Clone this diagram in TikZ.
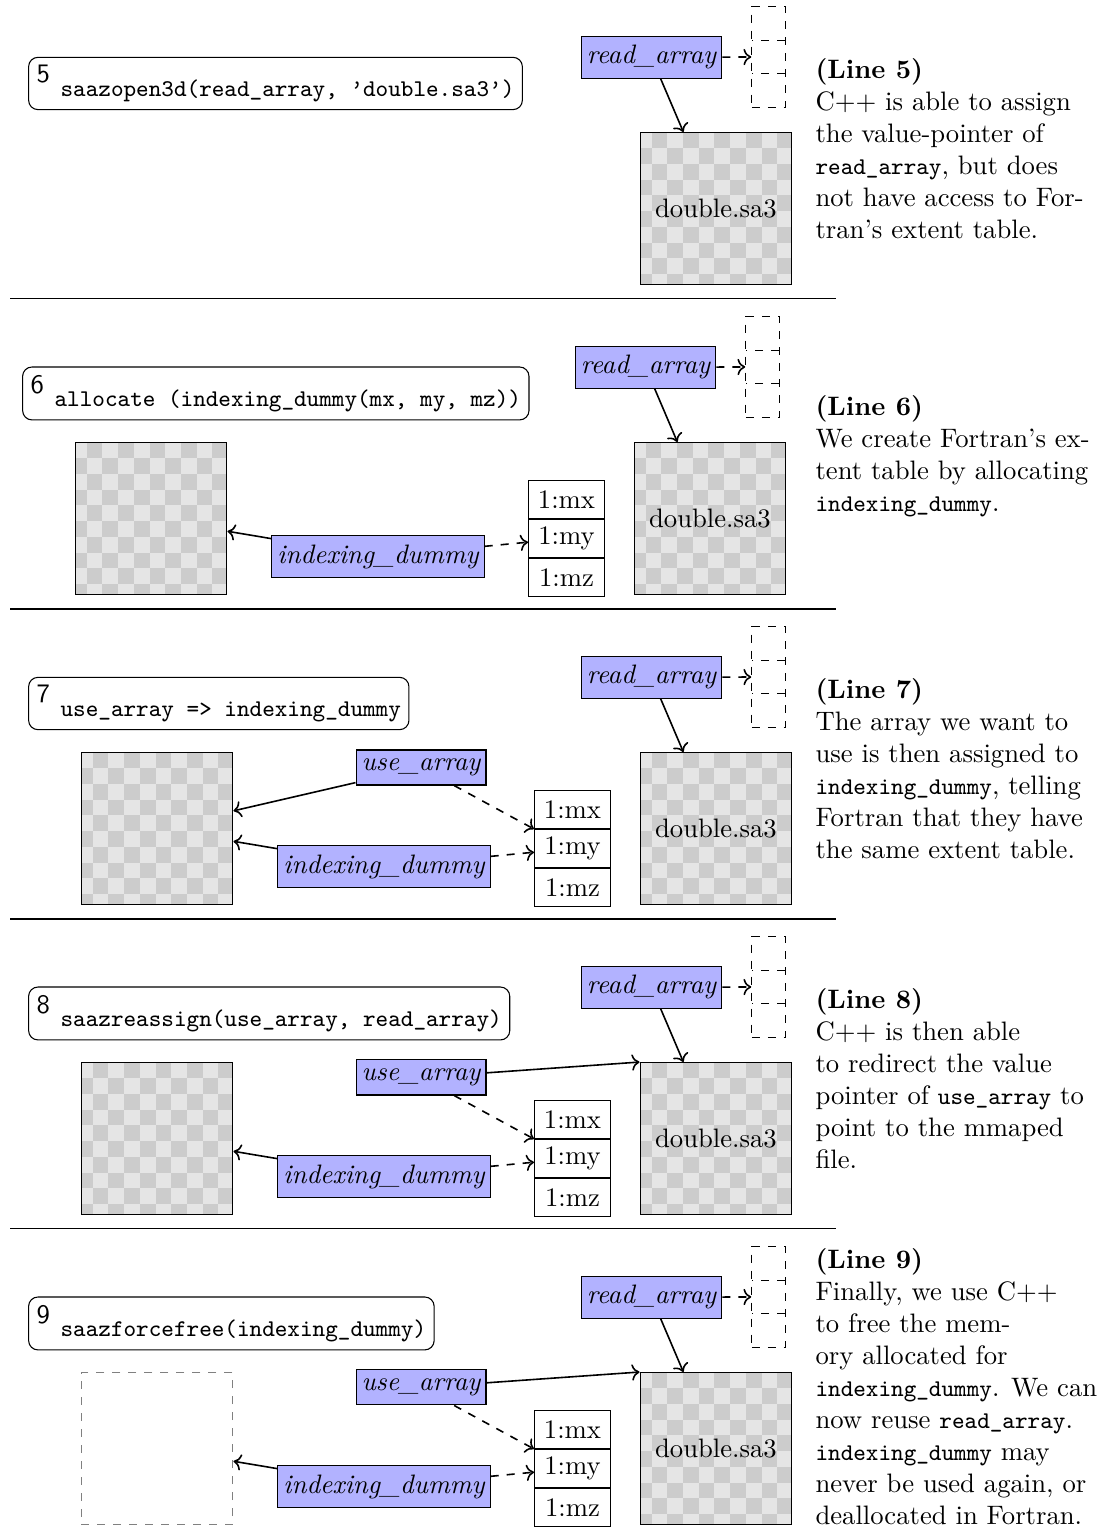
\documentclass[tikz,border=0pt]{standalone}
\usepackage{tikz}
\usetikzlibrary{positioning, arrows.meta, shapes.multipart}

% code words in the notes
\newcommand\tcode[1]{{\fontsize{9pt}{12pt}\selectfont\ttfamily #1}}

\begin{document}
\begin{tikzpicture}[
  codebox/.style={
    rectangle, rounded corners=3.5pt,
    draw, anchor=west, inner sep=3pt
  },
  var/.style={
    rectangle, draw, fill=blue!30,
    inner xsep=2.1pt, font=\itshape
  },
  filebox/.style={
    rectangle, draw, fill=black!10,
    minimum size=2cm,
    path picture={
      \foreach \col in {0,...,10} \foreach \row in {0,...,9} {
        \pgfmathtruncatemacro\odd{mod(\col+\row,2)}
        \ifnum\odd=1
          \fill[black!20] ([shift={({\col*0.207-0.055},{-\row*0.207})}]path picture bounding box.north west)
            rectangle ++(0.207,-0.207);
        \fi
      }
    }
  },
  freed/.style={
    rectangle, draw=gray, dashed,
    minimum size=2cm
  },
  ptrtab/.style={
    rectangle split, rectangle split parts=3,
    draw, dashed, inner sep=0pt, minimum width=0.44cm,
    rectangle split empty part height=0.215cm,
    rectangle split empty part depth=0.215cm
  },
  extcell/.style={
    rectangle, draw, fill=white, inner ysep=2.5pt,
    minimum width=1cm, minimum height=0.5cm
  },
  note/.style={anchor=north west, align=left, inner sep=0pt},
  ptr/.style={->, semithick},
  dptr/.style={->, semithick, dashed}
]
  \useasboundingbox (0,0) rectangle (14.545,-20.119);

  % --- Line 5 ---
  \begin{scope}
    \node[codebox] (code5) at (0.37,-1.10)
      {\textsf{5}\hspace{4pt}\raisebox{-5pt}{\small\texttt{saazopen3d(read\_array, \textquoteright double.sa3\textquoteright)}}};
    \node[var] (read5) at (8.584,-0.755) {read\_array};
    \node[ptrtab] (ptr5) at (10.125,-0.751) {};
    \node[filebox] (file5) at (9.433,-2.747) {double.sa3};

    \draw[dptr] (read5) -- (ptr5.two west);
    \draw[ptr] (read5) -- (file5);
  \end{scope}

  % --- Line 6 ---
  \begin{scope}[yshift=-4.084cm, xshift=-0.079cm]
    \node[codebox] (code6) at (0.37,-1.10)
      {\textsf{6}\hspace{4pt}\raisebox{-5pt}{\small\texttt{allocate (indexing\_dummy(mx, my, mz))}}};
    \node[var] (read6) at (8.584,-0.755) {read\_array};
    \node[ptrtab] (ptr6) at (10.125,-0.751) {};
    \node[filebox] (file6) at (9.433,-2.747) {double.sa3};
    \node[filebox] (mem6) at (2.069,-2.747) {};
    \node[var] (idx6) at (5.059,-3.248) {indexing\_dummy};
    \node[extcell] (mx6) at (7.543,-2.497) {1:mx};
    \node[extcell, below=0pt of mx6] (my6) {1:my};
    \node[extcell, below=0pt of my6] (mz6) {1:mz};

    \draw[dptr] (read6) -- (ptr6.two west);
    \draw[ptr] (read6) -- (file6);
    \draw[ptr] (idx6) -- (mem6);
    \draw[dptr] (idx6) -- (my6);
  \end{scope}

  % --- Line 7 ---
  \begin{scope}[yshift=-8.169cm]
    \node[codebox] (code7) at (0.37,-1.10)
      {\textsf{7}\hspace{4pt}\raisebox{-5pt}{\small\texttt{use\_array => indexing\_dummy}}};
    \node[var] (read7) at (8.584,-0.755) {read\_array};
    \node[ptrtab] (ptr7) at (10.125,-0.751) {};
    \node[filebox] (file7) at (9.433,-2.747) {double.sa3};
    \node[filebox] (mem7) at (2.069,-2.747) {};
    \node[var] (use7) at (5.547,-1.943) {use\_array};
    \node[var] (idx7) at (5.059,-3.248) {indexing\_dummy};
    \node[extcell] (mx7) at (7.543,-2.497) {1:mx};
    \node[extcell, below=0pt of mx7] (my7) {1:my};
    \node[extcell, below=0pt of my7] (mz7) {1:mz};

    \draw[dptr] (read7) -- (ptr7.two west);
    \draw[ptr] (read7) -- (file7);
    \draw[ptr] (use7) -- (mem7);
    \draw[dptr] (use7) -- (mx7.south west);
    \draw[ptr] (idx7) -- (mem7);
    \draw[dptr] (idx7) -- (my7);
  \end{scope}

  % --- Line 8 ---
  \begin{scope}[yshift=-12.253cm]
    \node[codebox] (code8) at (0.37,-1.10)
      {\textsf{8}\hspace{4pt}\raisebox{-5pt}{\small\texttt{saazreassign(use\_array, read\_array)}}};
    \node[var] (read8) at (8.584,-0.755) {read\_array};
    \node[ptrtab] (ptr8) at (10.125,-0.751) {};
    \node[filebox] (file8) at (9.433,-2.747) {double.sa3};
    \node[filebox] (mem8) at (2.069,-2.747) {};
    \node[var] (use8) at (5.547,-1.943) {use\_array};
    \node[var] (idx8) at (5.059,-3.248) {indexing\_dummy};
    \node[extcell] (mx8) at (7.543,-2.497) {1:mx};
    \node[extcell, below=0pt of mx8] (my8) {1:my};
    \node[extcell, below=0pt of my8] (mz8) {1:mz};

    \draw[dptr] (read8) -- (ptr8.two west);
    \draw[ptr] (read8) -- (file8);
    \draw[ptr] (use8) -- (file8.north west);
    \draw[dptr] (use8) -- (mx8.south west);
    \draw[ptr] (idx8) -- (mem8);
    \draw[dptr] (idx8) -- (my8);
  \end{scope}

  % --- Line 9 ---
  \begin{scope}[yshift=-16.337cm]
    \node[codebox] (code9) at (0.37,-1.10)
      {\textsf{9}\hspace{4pt}\raisebox{-5pt}{\small\texttt{saazforcefree(indexing\_dummy)}}};
    \node[var] (read9) at (8.584,-0.755) {read\_array};
    \node[ptrtab] (ptr9) at (10.125,-0.751) {};
    \node[filebox] (file9) at (9.433,-2.747) {double.sa3};
    \node[freed] (mem9) at (2.069,-2.747) {};
    \node[var] (use9) at (5.547,-1.943) {use\_array};
    \node[var] (idx9) at (5.059,-3.248) {indexing\_dummy};
    \node[extcell] (mx9) at (7.543,-2.497) {1:mx};
    \node[extcell, below=0pt of mx9] (my9) {1:my};
    \node[extcell, below=0pt of my9] (mz9) {1:mz};

    \draw[dptr] (read9) -- (ptr9.two west);
    \draw[ptr] (read9) -- (file9);
    \draw[ptr] (use9) -- (file9.north west);
    \draw[dptr] (use9) -- (mx9.south west);
    \draw[ptr] (idx9) -- (mem9);
    \draw[dptr] (idx9) -- (my9);
  \end{scope}

  % --- Separators ---
  \draw (0.132,-3.939) -- (11.015,-3.939);
  \draw (0.132,-8.024) -- (11.015,-8.024);
  \draw (0.132,-12.108) -- (11.015,-12.108);
  \draw (0.132,-16.192) -- (11.015,-16.192);

  % --- Notes ---
  \node[note] (note5) at (10.738,-0.764)
    {\textbf{(Line 5)}\\
     C++ is able to assign\\
     the value-pointer of\\
     \tcode{read\_array}, but does\\
     not have access to For-\\
     tran's extent table.};
  \node[note] (note6) at (10.738,-5.203)
    {\textbf{(Line 6)}\\
     We create Fortran's ex-\\
     tent table by allocating\\
     \tcode{indexing\_dummy}.};
  \node[note] (note7) at (10.738,-8.936)
    {\textbf{(Line 7)}\\
     The array we want to\\
     use is then assigned to\\
     \tcode{indexing\_dummy}, telling\\
     Fortran that they have\\
     the same extent table.};
  \node[note] (note8) at (10.738,-13.021)
    {\textbf{(Line 8)}\\
     C++ is then able\\
     to redirect the value\\
     pointer of \tcode{use\_array} to\\
     point to the mmaped\\
     file.};
  \node[note] (note9) at (10.738,-16.44)
    {\textbf{(Line 9)}\\
     Finally, we use C++\\
     to free the mem-\\
     ory allocated for\\
     \tcode{indexing\_dummy}. We can\\
     now reuse \tcode{read\_array}.\\
     \tcode{indexing\_dummy} may\\
     never be used again, or\\
     deallocated in Fortran.};
\end{tikzpicture}
\end{document}
